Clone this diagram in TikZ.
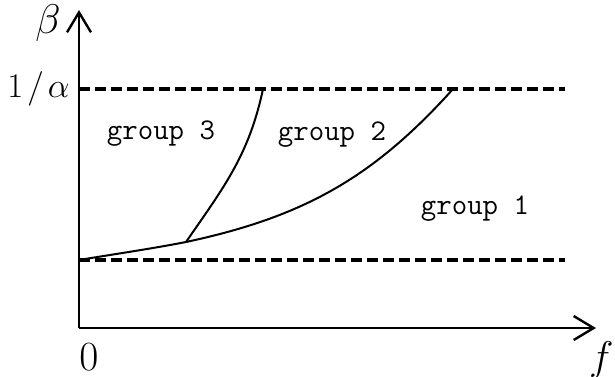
\documentclass[tikz,border=0pt]{standalone}
\usetikzlibrary{arrows.meta}

\begin{document}
\begin{tikzpicture}[x=0.5pt,y=-0.5pt,
    axis/.style={line width=1.2pt,-{Straight Barb[length=10pt,width=12pt,line width=1.2pt]}},
    level/.style={line width=1.6pt,dash pattern=on 5.5pt off 2.5pt},
    bound/.style={line width=1pt},
    region/.style={font=\fontsize{15}{17}\ttfamily},
    lbl/.style={font=\huge,inner sep=0pt}
  ]
    \useasboundingbox (0,0) rectangle (615,376);
    % axes
    \coordinate (o) at (79,328);
    \coordinate (ytip) at (79,10);
    \coordinate (xtip) at (596,328);
    \draw[axis] (o) -- (ytip);
    \draw[axis] (o) -- (xtip);
    % levels
    \coordinate (low) at (79,260);
    \coordinate (lowend) at (565,260);
    \coordinate (high) at (79,89);
    \coordinate (highend) at (565,89);
    \draw[level] (low) -- (lowend);
    \draw[level] (high) -- (highend);
    % boundaries
    \coordinate (j) at (186,242);
    \coordinate (top2) at (453,89);
    \coordinate (top3) at (263,89);
    \draw[bound] (low) .. controls (115,254) and (150,249) .. (j)
                       .. controls (303,217) and (373,178) .. (top2);
    \draw[bound] (j) .. controls (224,187) and (249,155) .. (top3);
    % labels
    \node[lbl] (beta) at (48,23) {$\beta$};
    \node[lbl,font=\LARGE,anchor=east] (inv) at (70,89) {$1\mkern2mu/\mkern2mu\alpha$};
    \node[lbl] (zero) at (89,357) {$0$};
    \node[lbl,anchor=east] (f) at (614,360) {$f$};
    \node[region] (g3) at (161,134) {group 3};
    \node[region] (g2) at (332,135) {group 2};
    \node[region] (g1) at (475,209) {group 1};
\end{tikzpicture}
\end{document}
